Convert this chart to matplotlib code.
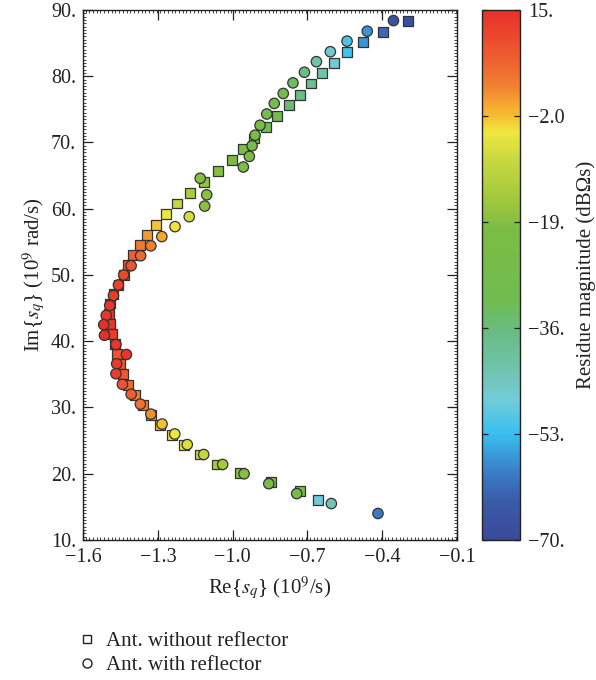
import numpy as np
import matplotlib
matplotlib.use("Agg")
import matplotlib.pyplot as plt
from matplotlib.colors import LinearSegmentedColormap, Normalize
from matplotlib.lines import Line2D
from matplotlib.ticker import FixedLocator, FixedFormatter, MultipleLocator

plt.rcParams['font.family'] = ['Liberation Serif', 'DejaVu Serif']
plt.rcParams['mathtext.fontset'] = 'stix'

# poles of the antenna without reflector: Re (1e9/s), Im (1e9 rad/s), residue (dB Ohm s)
re_without = [-0.295, -0.398, -0.477, -0.542, -0.594, -0.641, -0.687, -0.731, -0.775, -0.822,
              -0.867, -0.913, -0.958, -1.004, -1.057, -1.115, -1.172, -1.223, -1.266, -1.306,
              -1.342, -1.371, -1.398, -1.418, -1.437, -1.458, -1.478, -1.492, -1.496, -1.492,
              -1.482, -1.473, -1.464, -1.452, -1.441, -1.418, -1.390, -1.361, -1.328, -1.291,
              -1.242, -1.194, -1.133, -1.064, -0.969, -0.847, -0.731, -0.659]
im_without = [88.4, 86.7, 85.2, 83.6, 82.0, 80.5, 78.9, 77.2, 75.6, 74.0,
              72.3, 70.6, 69.0, 67.3, 65.7, 64.0, 62.4, 60.8, 59.2, 57.5,
              56.0, 54.5, 53.0, 51.5, 50.0, 48.5, 47.1, 45.7, 44.1, 42.6,
              41.1, 39.6, 38.1, 36.6, 35.0, 33.4, 31.9, 30.4, 28.9, 27.3,
              25.8, 24.3, 22.9, 21.4, 20.1, 18.7, 17.4, 16.0]
res_without = [-68, -62, -57, -52, -47, -42, -39, -37, -35, -31,
               -28, -25, -23, -21, -19, -17, -14, -10, -5, -2.5,
               1, 4, 7, 9, 11, 12, 13, 14, 14, 14,
               13, 11, 9, 8, 8, 6, 4, 3, 1, -2,
               -4, -6, -9, -14, -18, -21, -24, -48]

# poles of the antenna with reflector
re_with = [-0.355, -0.460, -0.541, -0.608, -0.664, -0.712, -0.758, -0.797, -0.833, -0.863,
           -0.890, -0.910, -0.922, -0.933, -0.957, -1.130, -1.104, -1.112, -1.174, -1.231,
           -1.284, -1.328, -1.369, -1.407, -1.437, -1.458, -1.478, -1.493, -1.507, -1.517,
           -1.514, -1.468, -1.426, -1.465, -1.468, -1.442, -1.407, -1.370, -1.328, -1.283,
           -1.232, -1.182, -1.116, -1.040, -0.954, -0.855, -0.743, -0.604, -0.417]
im_with = [88.4, 86.8, 85.3, 83.7, 82.2, 80.6, 79.0, 77.4, 75.9, 74.3,
           72.6, 71.1, 69.5, 67.9, 66.3, 64.6, 62.1, 60.4, 58.8, 57.3,
           55.8, 54.4, 52.9, 51.4, 50.0, 48.5, 46.9, 45.4, 43.9, 42.5,
           40.9, 39.5, 38.0, 36.6, 35.1, 33.5, 32.0, 30.5, 29.0, 27.5,
           26.0, 24.4, 22.9, 21.4, 20.0, 18.5, 17.0, 15.5, 14.0]
res_with = [-67, -57, -51, -46, -42, -37, -33, -30, -28, -26,
            -25, -24, -23, -22, -21, -19, -18, -18, -8, -4,
            0, 3, 6, 9, 11, 12, 13, 14, 14, 15,
            15, 14, 14, 13, 13, 9, 7, 5, 2, -2,
            -5, -7, -10, -15, -19, -22, -26, -43, -60]

x_ticks = [-1.6, -1.3, -1.0, -0.7, -0.4, -0.1]
x_labels = ['−1.6', '−1.3', '−1.0', '−0.7', '−0.4', '−0.1']
y_ticks = [10, 20, 30, 40, 50, 60, 70, 80, 90]
y_labels = ['10.', '20.', '30.', '40.', '50.', '60.', '70.', '80.', '90.']
cb_ticks = [15, -2, -19, -36, -53, -70]
cb_labels = ['15.', '−2.0', '−19.', '−36.', '−53.', '−70.']
vmin, vmax = -70, 15

# rainbow-like gradient, stops given in colour-bar units
stops = [(-70, '#3a4a9a'), (-64, '#3a5aa8'), (-59, '#3a80c8'), (-53, '#38c0f0'),
         (-47.5, '#72ccd8'), (-43, '#70c4b0'), (-36.3, '#68bc80'), (-31.5, '#70bc50'),
         (-20, '#7cbc44'), (-15.5, '#a0c83c'), (-9, '#c8d840'), (-4.5, '#f0e840'),
         (-2, '#f5c030'), (0.5, '#f5a030'), (3, '#f08030'), (7, '#ee6030'), (15, '#e8302a')]
cmap = LinearSegmentedColormap.from_list(
    'residue', [((v - vmin) / (vmax - vmin), c) for v, c in stops])
norm = Normalize(vmin=vmin, vmax=vmax)

fig = plt.figure(figsize=(5.96, 6.80), dpi=100)
ax = fig.add_axes([0.1393, 0.2059, 0.6275, 0.7794])
cax = fig.add_axes([0.8087, 0.2059, 0.0638, 0.7794])

ax.scatter(re_without, im_without, c=res_without, cmap=cmap, norm=norm, marker='s', s=50,
           edgecolors='#333333', linewidths=0.9, zorder=3)
ax.scatter(re_with, im_with, c=res_with, cmap=cmap, norm=norm, marker='o', s=56,
           edgecolors='#333333', linewidths=0.9, zorder=4)

ax.set_xlim(-1.6, -0.1)
ax.set_ylim(10, 90)
ax.xaxis.set_major_locator(FixedLocator(x_ticks))
ax.xaxis.set_major_formatter(FixedFormatter(x_labels))
ax.yaxis.set_major_locator(FixedLocator(y_ticks))
ax.yaxis.set_major_formatter(FixedFormatter(y_labels))
ax.xaxis.set_minor_locator(MultipleLocator(0.015))
ax.yaxis.set_minor_locator(MultipleLocator(0.5))
ax.tick_params(which='both', direction='in', top=True, right=True, colors='#222222',
               labelsize=14.5, labelcolor='#222222')
ax.tick_params(which='major', length=7, width=0.9)
ax.tick_params(which='minor', length=2.5, width=0.6)
ax.tick_params(axis='y', pad=5)
ax.tick_params(axis='x', pad=6)
for sp in ax.spines.values():
    sp.set_linewidth(1.0)
    sp.set_color('#222222')

ax.set_xlabel(r'Re{$s_q$} (10$^9$/s)', fontsize=15, color='#222222', labelpad=5)
ax.set_ylabel(r'Im{$s_q$} (10$^9$ rad/s)', fontsize=15, color='#222222', labelpad=2)

sm = plt.cm.ScalarMappable(cmap=cmap, norm=norm)
cb = fig.colorbar(sm, cax=cax)
cb.set_ticks(cb_ticks)
cb.set_ticklabels(cb_labels)
cb.outline.set_linewidth(1.0)
cb.outline.set_edgecolor('#222222')
cax.yaxis.set_ticks_position('both')
cax.yaxis.set_label_position('right')
cax.tick_params(direction='in', length=4, width=0.9, labelsize=14.5, colors='#222222',
                labelleft=False, labelright=True, pad=6)
cb.set_label('Residue magnitude (dBΩs)', fontsize=15, color='#222222', labelpad=8)

handles = [Line2D([], [], marker='s', linestyle='none', markersize=6, markerfacecolor='white',
                  markeredgecolor='#222222', markeredgewidth=1.0),
           Line2D([], [], marker='o', linestyle='none', markersize=6.5, markerfacecolor='white',
                  markeredgecolor='#222222', markeredgewidth=1.0)]
fig.legend(handles, ['Ant. without reflector', 'Ant. with reflector'], loc='center left',
           bbox_to_anchor=(0.094, 0.039), frameon=False, fontsize=15, handletextpad=0.3,
           labelspacing=0.2, handlelength=1.2, labelcolor='#222222')

fig.savefig('out.png', dpi=100)
